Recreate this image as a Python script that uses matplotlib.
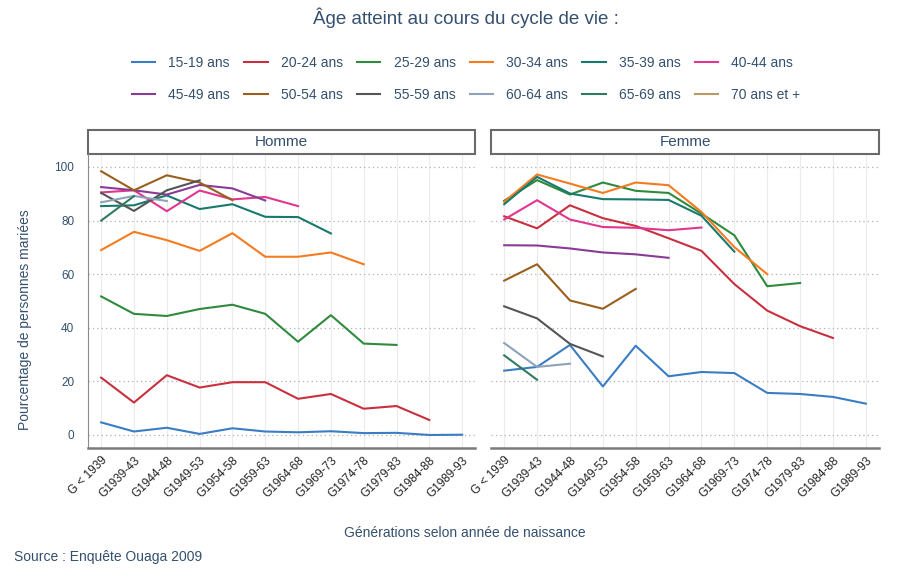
import matplotlib
matplotlib.use("Agg")
import matplotlib.pyplot as plt
from matplotlib.patches import Rectangle

plt.rcParams['font.family'] = ['Liberation Sans', 'DejaVu Sans']

# generations (x categories)
generations = ['G < 1939', 'G1939-43', 'G1944-48', 'G1949-53', 'G1954-58', 'G1959-63',
               'G1964-68', 'G1969-73', 'G1974-78', 'G1979-83', 'G1984-88', 'G1989-93']

age_groups = ['15-19 ans', '20-24 ans', '25-29 ans', '30-34 ans', '35-39 ans', '40-44 ans',
              '45-49 ans', '50-54 ans', '55-59 ans', '60-64 ans', '65-69 ans', '70 ans et +']

colors = ['#3a7dc4', '#c9303e', '#2f8a3e', '#f47b20', '#167a6c', '#e0368f',
          '#8a3b95', '#98601c', '#555555', '#8ea3bb', '#2e7a63', '#b59b62']

# Homme: % married, by age group, from oldest generation onward
h15 = [4.7, 1.3, 2.7, 0.4, 2.5, 1.3, 1.0, 1.4, 0.7, 0.8, 0.0, 0.1]
h20 = [21.4, 12.1, 22.3, 17.7, 19.7, 19.7, 13.5, 15.3, 9.8, 10.8, 5.6]
h25 = [51.7, 45.2, 44.4, 47.0, 48.6, 45.2, 34.8, 44.7, 34.1, 33.6]
h30 = [69.0, 75.8, 72.7, 68.7, 75.3, 66.5, 66.5, 68.1, 63.7]
h35 = [85.4, 85.7, 89.4, 84.3, 86.1, 81.4, 81.3, 75.2]
h40 = [90.5, 91.3, 83.5, 91.2, 87.9, 88.8, 85.4]
h45 = [92.5, 91.3, 89.7, 93.3, 92.0, 87.5]
h50 = [98.4, 91.3, 96.9, 94.2, 87.6]
h55 = [90.3, 83.6, 91.3, 95.0]
h60 = [86.8, 89.2, 87.3]
h65 = [80.0, 89.1]
h70 = []

# Femme
f15 = [24.0, 25.4, 33.6, 18.1, 33.3, 21.9, 23.5, 23.1, 15.7, 15.3, 14.2, 11.7]
f20 = [81.6, 77.1, 85.7, 80.9, 78.0, 73.4, 68.7, 56.3, 46.4, 40.6, 36.2]
f25 = [87.4, 95.1, 89.7, 94.2, 91.1, 90.3, 82.6, 74.5, 55.5, 56.7]
f30 = [87.0, 97.2, 93.8, 90.3, 94.2, 93.2, 83.2, 70.1, 60.0]
f35 = [86.1, 96.3, 90.1, 88.0, 87.9, 87.7, 81.8, 68.4]
f40 = [80.4, 87.6, 80.4, 77.6, 77.3, 76.4, 77.4]
f45 = [70.8, 70.7, 69.6, 68.1, 67.4, 66.1]
f50 = [57.6, 63.7, 50.2, 47.1, 54.5]
f55 = [48.0, 43.5, 34.0, 29.3]
f60 = [34.3, 25.4, 26.6]
f65 = [29.7, 20.6]
f70 = []

homme = [h15, h20, h25, h30, h35, h40, h45, h50, h55, h60, h65, h70]
femme = [f15, f20, f25, f30, f35, f40, f45, f50, f55, f60, f65, f70]

txt = '#34506e'

fig = plt.figure(figsize=(9.01, 5.69), dpi=100)
ax1 = fig.add_axes([0.0977, 0.2132, 0.4298, 0.5162])
ax2 = fig.add_axes([0.545, 0.2132, 0.4306, 0.5162])

xs = list(range(len(generations)))

for ax, data, name in [(ax1, homme, 'Homme'), (ax2, femme, 'Femme')]:
    for vals, col, lab in zip(data, colors, age_groups):
        ax.plot(xs[:len(vals)], vals, color=col, lw=1.5, label=lab)
    ax.set_xlim(-0.4, 11.4)
    ax.set_ylim(-4.74, 104.85)
    ax.set_xticks(xs)
    ax.set_xticklabels(generations, rotation=45, ha='right', rotation_mode='anchor',
                       fontsize=8.5, color='#222222')
    ax.set_yticks([0, 20, 40, 60, 80, 100])
    ax.tick_params(axis='x', length=0, pad=5)
    ax.tick_params(axis='y', length=0, pad=10, labelsize=8.5, labelcolor=txt)
    ax.grid(axis='x', color='#ececec', lw=0.8)
    ax.grid(axis='y', color='#b0b0b0', lw=0.9, linestyle=(0, (1, 2.5)))
    ax.set_axisbelow(True)
    for s in ['top', 'right', 'left']:
        ax.spines[s].set_visible(False)
    ax.spines['bottom'].set_color('#7a7a7a')
    ax.spines['bottom'].set_linewidth(1.8)
    # facet strip
    strip = Rectangle((0, 1.0), 1, 0.0817, transform=ax.transAxes, facecolor='white',
                      edgecolor='#6a6a6a', lw=1.5, clip_on=False)
    ax.add_patch(strip)
    ax.text(0.5, 1.041, name, transform=ax.transAxes, ha='center', va='center',
            fontsize=11, color=txt)

ax1.spines['left'].set_visible(True)
ax1.spines['left'].set_color('#8a8a8a')
ax1.spines['left'].set_linewidth(0.8)
ax2.set_yticklabels([])

fig.text(466 / 901, 1 - 18 / 569, 'Âge atteint au cours du cycle de vie :', ha='center',
         va='center', fontsize=13.5, color=txt)

# legend filled row by row (matplotlib fills columns first)
handles, labels = ax1.get_legend_handles_labels()
ncol = 6
order = [r * ncol + c for c in range(ncol) for r in range(2)]
fig.legend([handles[i] for i in order], [labels[i] for i in order], ncol=ncol, loc='center',
           bbox_to_anchor=(466 / 901, 1 - 79 / 569), frameon=False, fontsize=10,
           labelcolor=txt, handlelength=1.7, handletextpad=0.95, columnspacing=1.0,
           labelspacing=1.3)

fig.text(25 / 901, 1 - 320 / 569, 'Pourcentage de personnes mariées', rotation=90,
         ha='center', va='center', fontsize=10, color=txt)
fig.text(465 / 901, 1 - 533 / 569, 'Générations selon année de naissance', ha='center',
         va='center', fontsize=10, color=txt)
fig.text(14 / 901, 1 - 557 / 569, 'Source : Enquête Ouaga 2009', ha='left', va='center',
         fontsize=10, color=txt)

fig.savefig('out.png', dpi=100)
